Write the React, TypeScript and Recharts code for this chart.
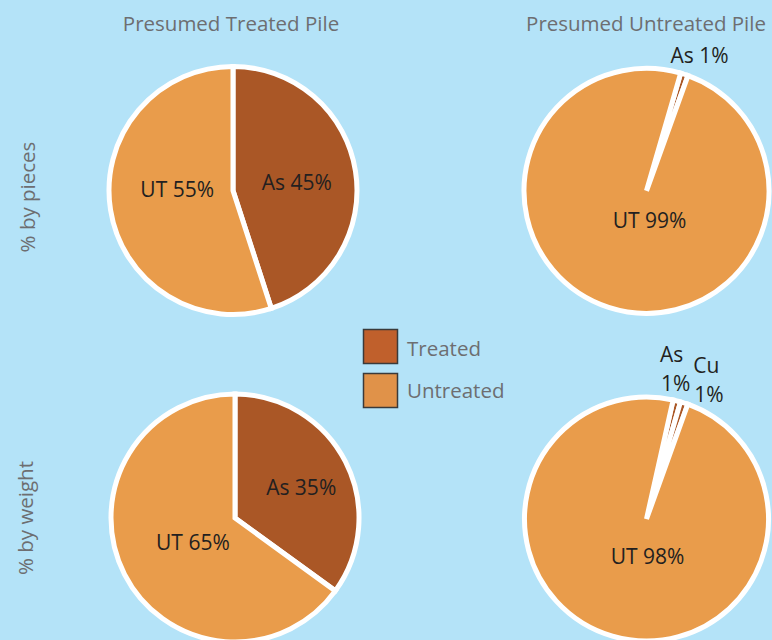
import React from 'react';
import { PieChart, Pie, Cell, Customized } from 'recharts';

// ---- data ----
const columnTitles = ['Presumed Treated Pile', 'Presumed Untreated Pile'];
const rowTitles = ['% by pieces', '% by weight'];
const legendLabels = ['Treated', 'Untreated'];

const treatedPiecesNames = ['As', 'UT'];
const treatedPiecesValues = [45, 55];
const untreatedPiecesNames = ['As', 'UT'];
const untreatedPiecesValues = [1, 99];
const treatedWeightNames = ['As', 'UT'];
const treatedWeightValues = [35, 65];
const untreatedWeightNames = ['As', 'Cu', 'UT'];
const untreatedWeightValues = [1, 1, 98];
const treatedKinds = ['As', 'Cu'];

// ---- style ----
const BG = '#b4e3f8';
const SLICE_TREATED = '#aa5726';
const SLICE_UNTREATED = '#e99c4b';
const LEG_TREATED = '#c0602c';
const LEG_UNTREATED = '#e09249';
const GRAY = '#6d6e71';
const DARK = '#231f20';
const FONT = '"Open Sans", sans-serif';

const build = (names: string[], values: number[]) =>
  names.map((n, i) => ({ name: n, value: values[i] }));

type LabelSpec = { r: number; da: number; anchor?: string; split?: boolean };

const makeLabel = (specs: LabelSpec[]) => (props: any) => {
  const { cx, cy, midAngle, outerRadius, index, name, value } = props;
  const s = specs[index];
  const theta = ((90 - midAngle + s.da) * Math.PI) / 180;
  const x = cx + s.r * outerRadius * Math.sin(theta);
  const y = cy - s.r * outerRadius * Math.cos(theta);
  if (s.split) {
    return (
      <text x={x} y={y} fill={DARK} fontFamily={FONT} fontSize={21} textAnchor={s.anchor || 'middle'}>
        <tspan x={x} dy={-14.5} dominantBaseline="central">{name}</tspan>
        <tspan x={x + 1} dy={29} dominantBaseline="central">{`${value}%`}</tspan>
      </text>
    );
  }
  return (
    <text x={x} y={y} fill={DARK} fontFamily={FONT} fontSize={21} textAnchor={s.anchor || 'middle'} dominantBaseline="central">
      {`${name} ${value}%`}
    </text>
  );
};

const colorFor = (name: string) => (treatedKinds.includes(name) ? SLICE_TREATED : SLICE_UNTREATED);

const Decor = () => (
  <g fontFamily={FONT}>
    <text x={231} y={23} fill={GRAY} fontSize={20.5} textAnchor="middle" dominantBaseline="central">{columnTitles[0]}</text>
    <text x={646} y={23} fill={GRAY} fontSize={20.5} textAnchor="middle" dominantBaseline="central">{columnTitles[1]}</text>
    <text x={27} y={197} fill={GRAY} fontSize={20.5} textAnchor="middle" dominantBaseline="central" transform="rotate(-90 27 197)">{rowTitles[0]}</text>
    <text x={25} y={518} fill={GRAY} fontSize={20.5} textAnchor="middle" dominantBaseline="central" transform="rotate(-90 25 518)">{rowTitles[1]}</text>
    <rect x={363.5} y={329.5} width={34} height={34} fill={LEG_TREATED} stroke="#3a3a3a" strokeWidth={1.5} />
    <rect x={363.5} y={373.5} width={34} height={34} fill={LEG_UNTREATED} stroke="#3a3a3a" strokeWidth={1.5} />
    <text x={407} y={347.5} fill={GRAY} fontSize={20.5} dominantBaseline="central">{legendLabels[0]}</text>
    <text x={407} y={390} fill={GRAY} fontSize={20.5} dominantBaseline="central">{legendLabels[1]}</text>
  </g>
);

export default function App() {
  const pies = [
    { data: build(treatedPiecesNames, treatedPiecesValues), cx: 233, cy: 190.5, R: 124, start: 90,
      labels: [{ r: 0.52, da: 1.4 }, { r: 0.45, da: 10.5 }] },
    { data: build(untreatedPiecesNames, untreatedPiecesValues), cx: 646.5, cy: 190.8, R: 122.5, start: 73.8,
      labels: [{ r: 1.19, da: 3.3 }, { r: 0.24, da: -23.9 }] },
    { data: build(treatedWeightNames, treatedWeightValues), cx: 235, cy: 518, R: 124, start: 90,
      labels: [{ r: 0.59, da: 1.8 }, { r: 0.39, da: -2.5 }] },
    { data: build(untreatedWeightNames, untreatedWeightValues), cx: 646.5, cy: 519, R: 122, start: 77.4,
      labels: [{ r: 1.24, da: -9.3, anchor: 'start', split: true }, { r: 1.21, da: 0.5, anchor: 'start', split: true }, { r: 0.3, da: -17.8 }] },
  ];
  return (
    <div style={{ position: 'absolute', left: 0, top: 0, width: 772, height: 640, background: BG, overflow: 'hidden' }}>
      <PieChart width={772} height={640} margin={{ top: 0, right: 0, bottom: 0, left: 0 }}>
        <Customized component={Decor} />
        {pies.map((p, i) => (
          <Pie
            key={i}
            data={p.data}
            dataKey="value"
            nameKey="name"
            cx={p.cx}
            cy={p.cy}
            outerRadius={p.R}
            innerRadius={0}
            startAngle={p.start}
            endAngle={p.start - 360}
            stroke="#ffffff"
            strokeWidth={5}
            label={makeLabel(p.labels)}
            labelLine={false}
            isAnimationActive={false}
          >
            {p.data.map((d, j) => (
              <Cell key={j} fill={colorFor(d.name)} stroke="#ffffff" strokeWidth={5} />
            ))}
          </Pie>
        ))}
      </PieChart>
    </div>
  );
}
